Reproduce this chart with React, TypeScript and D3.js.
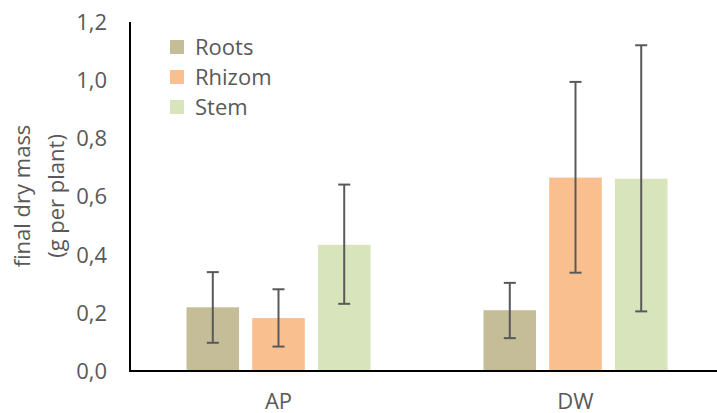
import React from "react";
import * as d3 from "d3";

const categories = ["AP", "DW"];
const seriesNames = ["Roots", "Rhizom", "Stem"];
const seriesColors = ["#C4BD97", "#F9BF8F", "#D8E4BC"];
const rootsValues = [0.219, 0.209];
const rhizomValues = [0.182, 0.665];
const stemValues = [0.434, 0.661];
const rootsErrLow = [0.097, 0.113];
const rootsErrHigh = [0.34, 0.303];
const rhizomErrLow = [0.084, 0.338];
const rhizomErrHigh = [0.281, 0.994];
const stemErrLow = [0.231, 0.205];
const stemErrHigh = [0.641, 1.12];
const yTicks = [0, 0.2, 0.4, 0.6, 0.8, 1.0, 1.2];

const W = 717;
const H = 413;
const FONT = "'Open Sans', sans-serif";
const TXT = "#595959";
const FS = 22;

export default function App() {
  const values = [rootsValues, rhizomValues, stemValues];
  const lows = [rootsErrLow, rhizomErrLow, stemErrLow];
  const highs = [rootsErrHigh, rhizomErrHigh, stemErrHigh];

  const y = d3.scaleLinear().domain([0, 1.2]).range([371, 22]);
  const x0 = d3.scaleBand().domain(categories).range([130, 724]).paddingInner(0).paddingOuter(0);
  const inner = d3.scaleBand().domain(seriesNames).range([0, 184]).paddingInner(0.2).paddingOuter(0);
  const fmt = (v: number) => d3.format(".1f")(v).replace(".", ",");

  return (
    <svg width={W} height={H} style={{ position: "absolute", left: 0, top: 0 }} fontFamily={FONT}>
      <rect width={W} height={H} fill="#fff" />
      {yTicks.map((t) => (
        <text key={t} x={107} y={y(t)} dy="0.36em" textAnchor="end" fontSize={FS} fill={TXT}>
          {fmt(t)}
        </text>
      ))}
      <text transform={`translate(30,196) rotate(-90)`} textAnchor="middle" fontSize={FS} fill={TXT}>
        final dry mass
      </text>
      <text transform={`translate(64,196) rotate(-90)`} textAnchor="middle" fontSize={FS} fill={TXT}>
        (g per plant)
      </text>
      {categories.map((c, ci) => {
        const center = x0(c)! + x0.bandwidth() / 2;
        const start = center - 92;
        return seriesNames.map((s, si) => {
          const bx = start + inner(s)!;
          const bw = inner.bandwidth();
          const v = values[si][ci];
          const cx = bx + bw / 2;
          return (
            <g key={c + s}>
              <rect x={bx} y={y(v)} width={bw} height={y(0) - y(v)} fill={seriesColors[si]} />
              <line x1={cx} x2={cx} y1={y(lows[si][ci])} y2={y(highs[si][ci])} stroke="#595959" strokeWidth={2} />
              <line x1={cx - 6} x2={cx + 6} y1={y(lows[si][ci])} y2={y(lows[si][ci])} stroke="#595959" strokeWidth={2} />
              <line x1={cx - 6} x2={cx + 6} y1={y(highs[si][ci])} y2={y(highs[si][ci])} stroke="#595959" strokeWidth={2} />
            </g>
          );
        });
      })}
      <line x1={130} x2={130} y1={y(1.2)} y2={y(0) + 1} stroke="#000" strokeWidth={2} />
      <line x1={129} x2={W} y1={y(0)} y2={y(0)} stroke="#000" strokeWidth={2} />
      {categories.map((c) => (
        <text key={c} x={x0(c)! + x0.bandwidth() / 2} y={409} textAnchor="middle" fontSize={FS} fill={TXT}>
          {c}
        </text>
      ))}
      {seriesNames.map((s, i) => (
        <g key={s} transform={`translate(170,${40 + i * 30})`}>
          <rect width={14} height={14} fill={seriesColors[i]} />
          <text x={25} y={7} dy="0.36em" fontSize={FS} fill={TXT}>
            {s}
          </text>
        </g>
      ))}
    </svg>
  );
}
